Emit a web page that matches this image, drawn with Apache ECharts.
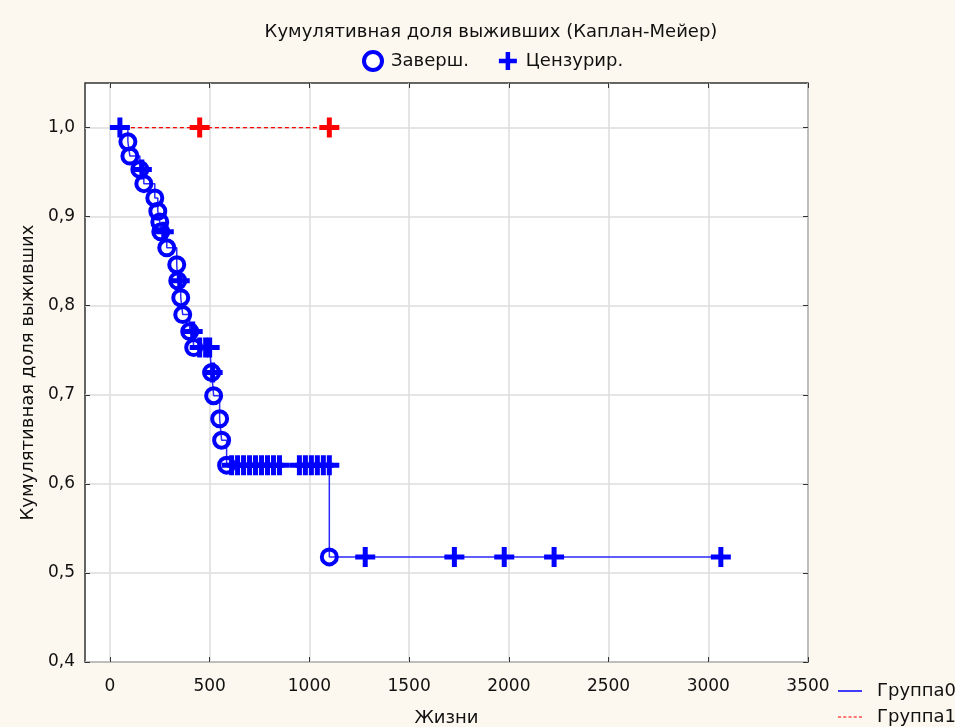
<!DOCTYPE html>
<html><head><meta charset="utf-8">
<script src="https://cdn.jsdelivr.net/npm/echarts@6/dist/echarts.min.js"></script>
<style>html,body{margin:0;padding:0;background:#fdf8ef;}#c{width:955px;height:727px;}</style>
</head><body><div id="c"></div>
<script>
// Group 0: complete (event) times and survival after event
const g0EventTimes = [90, 100, 150, 170, 225, 240, 250, 255, 285, 335, 340, 355, 365, 400, 420, 510, 520, 550, 560, 585, 1100];
const g0EventSurv  = [0.984, 0.968, 0.953, 0.937, 0.921, 0.906, 0.894, 0.883, 0.865, 0.846, 0.828, 0.809, 0.790, 0.771, 0.753, 0.725, 0.699, 0.673, 0.649, 0.621, 0.518];
// Group 0: censored times and survival at censoring
const g0CensTimes = [50, 160, 270, 350, 415, 450, 480, 500, 515, 610, 640, 670, 700, 730, 760, 790, 820, 850, 950, 980, 1010, 1040, 1070, 1100, 1280, 1727, 1977, 2227, 3063];
const g0CensSurv  = [1.0, 0.953, 0.883, 0.828, 0.771, 0.753, 0.753, 0.753, 0.725, 0.621, 0.621, 0.621, 0.621, 0.621, 0.621, 0.621, 0.621, 0.621, 0.621, 0.621, 0.621, 0.621, 0.621, 0.621, 0.518, 0.518, 0.518, 0.518, 0.518];
// Group 1: censored only
const g1CensTimes = [450, 1100];
const g1CensSurv  = [1.0, 1.0];
const xTicks = [0, 500, 1000, 1500, 2000, 2500, 3000, 3500];
const yTicks = [0.4, 0.5, 0.6, 0.7, 0.8, 0.9, 1.0];

function kmLine(evT, evS, cT, cS) {
  const pts = [[0, 1.0, 0]];
  evT.forEach((t, i) => pts.push([t, evS[i], 1]));
  cT.forEach((t, i) => pts.push([t, cS[i], 0]));
  pts.sort((a, b) => a[0] - b[0] || (a[2] - b[2]) || (b[1] - a[1]));
  return pts.map(p => [p[0], p[1]]);
}
const g0Line = kmLine(g0EventTimes, g0EventSurv, g0CensTimes, g0CensSurv);
const g1Line = kmLine([], [], g1CensTimes, g1CensSurv);

const plusPath = 'path://M-1.25,-5 L1.25,-5 L1.25,-1.25 L5,-1.25 L5,1.25 L1.25,1.25 L1.25,5 L-1.25,5 L-1.25,1.25 L-5,1.25 L-5,-1.25 L-1.25,-1.25 Z';
const solidIcon = 'path://M0,0 H24 V1.5 H0 Z';
const dashIcon = 'path://M0,0 h3 v1 h-3 Z M5,0 h3 v1 h-3 Z M10,0 h3 v1 h-3 Z M15,0 h3 v1 h-3 Z M20,0 h3 v1 h-3 Z';
const FONT = 'DejaVu Sans';
const FS = 18;
const FT = 17;
const TXT = '#111';
const chart = echarts.init(document.getElementById('c'));
const xBase = {type: 'value', min: -125, max: 3500, axisLine: {show: false, onZero: false}};
const yBase = {type: 'value', min: 0.4, max: 1.05, axisLine: {show: false, onZero: false}};
chart.setOption({
  backgroundColor: '#fdf8ef',
  animation: false,
  textStyle: {fontFamily: FONT},
  title: {
    text: 'Кумулятивная доля выживших (Каплан-Мейер)',
    left: 486, top: 18, textAlign: 'center',
    textStyle: {fontFamily: FONT, fontSize: FS, fontWeight: 'normal', color: TXT}
  },
  legend: [{
    data: [
      {name: 'Заверш.', icon: 'circle', itemStyle: {color: '#ffffff', borderColor: '#0000ff', borderWidth: 4, opacity: 1}},
      {name: 'Цензурир.', icon: plusPath, itemStyle: {color: '#0000ff', borderWidth: 0, opacity: 1}}
    ],
    left: 362, top: 50, itemWidth: 18, itemHeight: 18, itemGap: 30, padding: 0,
    textStyle: {fontFamily: FONT, fontSize: FS, color: TXT, padding: [0, 0, 0, 4]}
  }, {
    data: [
      {name: 'Группа0', icon: solidIcon, itemStyle: {color: '#0000ff', borderWidth: 0}},
      {name: 'Группа1', icon: dashIcon, itemStyle: {color: '#ff0000', borderWidth: 0}}
    ],
    orient: 'vertical', left: 838, top: 682, itemWidth: 24, itemHeight: 1.5, itemGap: 8, padding: 0,
    height: 60,
    textStyle: {fontFamily: FONT, fontSize: FS, color: TXT, padding: [0, 0, 0, 10], lineHeight: 18}
  }],
  grid: {left: 85, top: 83, right: 147, bottom: 65, show: true, backgroundColor: '#ffffff',
    borderColor: '#333', borderWidth: 1.5, containLabel: false, outerBoundsMode: 'none'},
  xAxis: [Object.assign({}, xBase, {
    position: 'bottom',
    name: 'Жизни', nameLocation: 'middle', nameGap: 47,
    nameTextStyle: {fontFamily: FONT, fontSize: FS, color: TXT},
    axisTick: {inside: true, length: 5, lineStyle: {color: '#333'}, customValues: xTicks},
    axisLabel: {customValues: xTicks, margin: 16, fontFamily: FONT, fontSize: FT, color: TXT,
      formatter: v => String(v)},
    splitLine: {show: true, lineStyle: {color: '#dcdcdc', width: 1.5}}
  }), Object.assign({}, xBase, {
    position: 'top',
    axisTick: {inside: true, length: 5, lineStyle: {color: '#333'}, customValues: xTicks},
    axisLabel: {show: false}, splitLine: {show: false}
  })],
  yAxis: [Object.assign({}, yBase, {
    position: 'left',
    name: 'Кумулятивная доля выживших', nameLocation: 'middle', nameGap: 42,
    nameTextStyle: {fontFamily: FONT, fontSize: FS, color: TXT},
    axisTick: {inside: true, length: 5, lineStyle: {color: '#333'}, customValues: yTicks},
    axisLabel: {customValues: yTicks, margin: 10, fontFamily: FONT, fontSize: FT, color: TXT,
      formatter: v => v.toFixed(1).replace('.', ',')},
    splitLine: {show: true, lineStyle: {color: '#dcdcdc', width: 1.5}}
  }), Object.assign({}, yBase, {
    position: 'right',
    axisTick: {inside: true, length: 5, lineStyle: {color: '#333'}, customValues: yTicks},
    axisLabel: {show: false}, splitLine: {show: false}
  })],
  series: [
    {name: 'Группа0', type: 'line', step: 'end', data: g0Line, showSymbol: false, symbol: 'none',
      lineStyle: {color: '#2a2aff', width: 1.5}, itemStyle: {color: '#0000ff'}, z: 2},
    {name: 'Группа1', type: 'line', step: 'end', data: g1Line, showSymbol: false, symbol: 'none',
      lineStyle: {color: '#ff0000', width: 1.2, type: [4, 3]}, itemStyle: {color: '#ff0000'}, z: 3},
    {name: 'Заверш.', type: 'scatter', data: g0EventTimes.map((t, i) => [t, g0EventSurv[i]]),
      symbol: 'circle', symbolSize: 15,
      itemStyle: {color: 'rgba(0,0,0,0)', borderColor: '#0000ff', borderWidth: 4, opacity: 1}, z: 4},
    {name: 'Цензурир.', type: 'scatter', data: g0CensTimes.map((t, i) => [t, g0CensSurv[i]]),
      symbol: plusPath, symbolSize: 20, itemStyle: {color: '#0000ff', opacity: 1}, z: 5},
    {name: 'Цензурир.1', type: 'scatter', data: g1CensTimes.map((t, i) => [t, g1CensSurv[i]]),
      symbol: plusPath, symbolSize: 20, itemStyle: {color: '#ff0000', opacity: 1}, z: 6}
  ]
});
</script></body></html>
